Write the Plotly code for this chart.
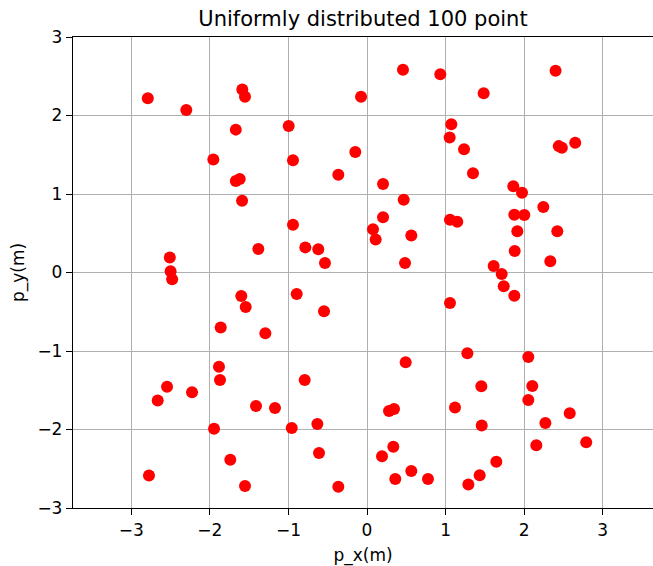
import plotly.graph_objects as go

px_vals = [-2.79, -1.587, -1.553, -2.30, -1.67, -1.956, -1.67, -1.62, -1.59, -1.383,
           -2.51, -2.50, -2.48, -1.60, -1.544, -1.862, -1.294, -1.884, -1.871, -2.545,
           -2.664, -2.227, -1.413, -1.171, -1.947, -1.74, -2.775, -1.553, 0.458, 0.933,
           -0.076, -0.997, 1.073, 1.052, 1.235, -0.942, -0.149, -0.365, 1.349, 0.204,
           0.467, 1.056, 1.149, -0.942, 0.204, 0.076, 0.11, 0.564, -0.785, -0.62,
           -0.535, 0.484, -0.895, -0.547, 1.056, 0.492, 1.277, -0.793, 0.28, 0.344,
           1.12, -0.958, -0.632, -0.611, -0.365, 0.335, 0.191, 0.564, 0.36, 0.776,
           1.29, 2.40, 1.485, 2.44, 2.48, 2.65, 1.862, 1.973, 2.244, 1.875,
           2.002, 1.913, 2.422, 1.88, 2.333, 1.612, 1.714, 1.74, 1.875, 2.053,
           1.455, 2.104, 2.053, 2.58, 2.27, 1.46, 2.155, 2.79, 1.646, 1.434]
py_vals = [2.22, 2.33, 2.24, 2.07, 1.82, 1.44, 1.166, 1.19, 0.915, 0.30,
           0.19, 0.015, -0.087, -0.30, -0.44, -0.70, -0.775, -1.20, -1.37, -1.455,
           -1.63, -1.526, -1.70, -1.726, -1.99, -2.385, -2.585, -2.72, 2.583, 2.525,
           2.24, 1.866, 1.89, 1.72, 1.57, 1.43, 1.535, 1.246, 1.264, 1.127,
           0.928, 0.673, 0.647, 0.609, 0.703, 0.55, 0.42, 0.47, 0.32, 0.296,
           0.12, 0.12, -0.274, -0.495, -0.389, -1.144, -1.03, -1.37, -1.764, -1.739,
           -1.72, -1.98, -1.93, -2.30, -2.73, -2.22, -2.34, -2.53, -2.63, -2.63,
           -2.70, 2.57, 2.283, 1.61, 1.59, 1.654, 1.10, 1.017, 0.834, 0.736,
           0.732, 0.525, 0.525, 0.274, 0.143, 0.083, -0.02, -0.176, -0.295, -1.076,
           -1.45, -1.446, -1.624, -1.794, -1.917, -1.95, -2.20, -2.163, -2.41, -2.584]

title_text = "Uniformly distributed 100 point"
x_label = "p_x(m)"
y_label = "p_y(m)"
tick_vals = [-3, -2, -1, 0, 1, 2, 3]

fig = go.Figure(go.Scatter(
    x=px_vals, y=py_vals, mode="markers",
    marker=dict(color="#ff0000", size=12, line=dict(width=0)),
))

font_family = "DejaVu Sans"
fig.update_layout(
    width=653, height=566,
    margin=dict(l=73, r=0, t=37, b=58),
    paper_bgcolor="white", plot_bgcolor="white",
    showlegend=False,
    font=dict(family=font_family, color="black", size=17),
    title=dict(text=title_text, x=(73 + 653) / 2 / 653, xanchor="center",
               y=1 - 19 / 566, yanchor="middle", font=dict(size=21)),
)
fig.update_xaxes(
    range=[-3.742, 3.64], tickvals=tick_vals,
    showgrid=True, gridcolor="#b0b0b0", gridwidth=1,
    zeroline=False, showline=True, linecolor="black", linewidth=1.3, mirror=True,
    ticks="outside", ticklen=6, tickcolor="black", tickwidth=1.2,
    title=dict(text=x_label, standoff=10, font=dict(size=17)), tickfont=dict(size=17),
)
fig.update_yaxes(
    range=[-3, 3], tickvals=tick_vals,
    showgrid=True, gridcolor="#b0b0b0", gridwidth=1,
    zeroline=False, showline=True, linecolor="black", linewidth=1.3, mirror=False,
    ticks="outside", ticklen=6, tickcolor="black", tickwidth=1.2,
    title=dict(text=y_label, standoff=8, font=dict(size=17)), tickfont=dict(size=17),
)

fig.write_html("out.html")
